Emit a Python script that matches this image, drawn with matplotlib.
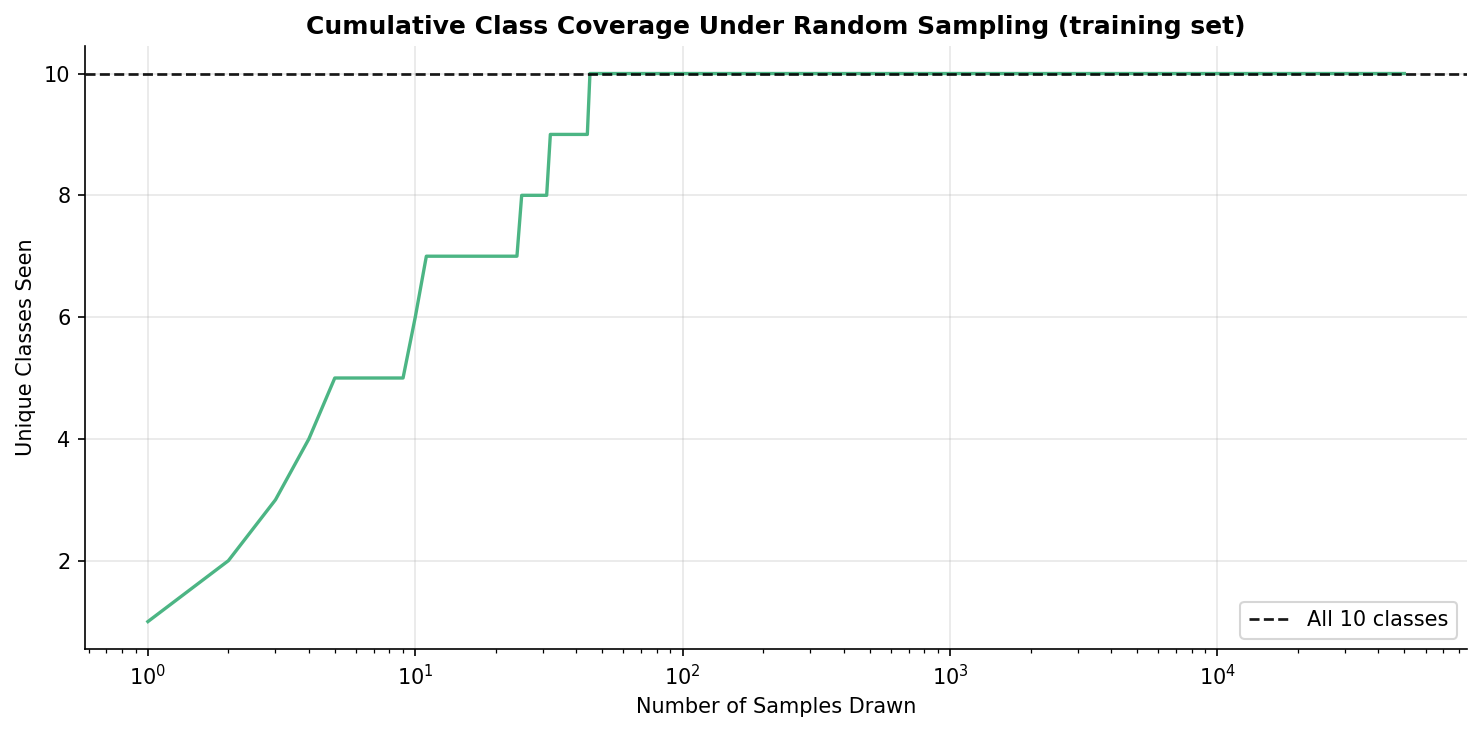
import matplotlib
matplotlib.use('Agg')
import matplotlib.pyplot as plt

# samples drawn where the count changes, and unique classes seen
samples = [1, 2, 3, 4, 5, 9, 10, 11, 24, 25, 31, 32, 44, 45, 50000]
unique_classes = [1, 2, 3, 4, 5, 5, 6, 7, 7, 8, 8, 9, 9, 10, 10]
n_classes = 10

fig, ax = plt.subplots(figsize=(9.88, 4.88), dpi=150)
fig.subplots_adjust(left=0.0574, right=0.990, top=0.937, bottom=0.1134)

ax.plot(samples, unique_classes, color='#4cb584', linewidth=1.6)
ax.axhline(n_classes, color='black', linestyle='--', linewidth=1.3, alpha=0.9,
           label=f'All {n_classes} classes')
ax.set_xscale('log')

ax.set_title('Cumulative Class Coverage Under Random Sampling (training set)',
             fontweight='bold', fontsize=12)
ax.set_xlabel('Number of Samples Drawn')
ax.set_ylabel('Unique Classes Seen')
ax.grid(True, alpha=0.3)
ax.spines['top'].set_visible(False)
ax.spines['right'].set_visible(False)
ax.legend(loc='lower right')

fig.savefig('out.png', dpi=150)
